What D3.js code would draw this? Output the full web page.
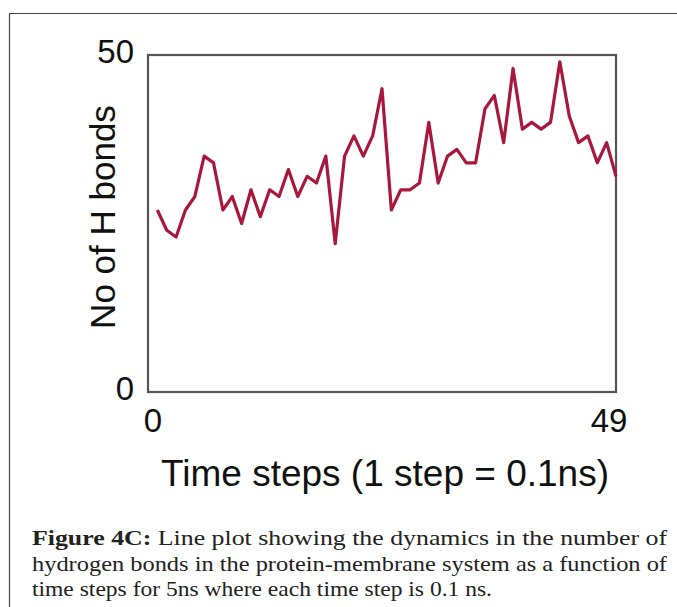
<!DOCTYPE html>
<html lang="en">
<head>
<meta charset="UTF-8">
<title>H bonds</title>
<script src="https://d3js.org/d3.v7.min.js"></script>
<style>
body { margin: 0; background: white; }
svg { display: block; }
.tick-label { font-family: "Liberation Sans", Arial, sans-serif; font-size: 33px; fill: #111; }
.axis-title { font-family: "Liberation Sans", Arial, sans-serif; fill: #111; }
.caption { font-family: "Liberation Serif", "DejaVu Serif", serif; font-size: 22px; fill: #222; }
</style>
</head>
<body>
<div id="chart"></div>
<script>
// number of H bonds at each time step
var hbonds = [27, 24, 23, 27, 29, 35, 34, 27, 29, 25,
              30, 26, 30, 29, 33, 29, 32, 31, 35, 22,
              35, 38, 35, 38, 45, 27, 30, 30, 31, 40,
              31, 35, 36, 34, 34, 42, 44, 37, 48, 39,
              40, 39, 40, 49, 41, 37, 38, 34, 37, 32];
var yTicks = [0, 50];
var xTicks = [0, 50];
var xTickLabels = ["0", "49"];
var captionLines = [
  "Line plot showing the dynamics in the number of",
  "hydrogen bonds in the protein-membrane system as a function of",
  "time steps for 5ns where each time step is 0.1 ns."
];

var W = 677, H = 607;
var plot = {left: 148, right: 616, top: 55, bottom: 392};

var svg = d3.select("#chart").append("svg")
  .attr("width", W).attr("height", H);

// outer frame of the figure
svg.append("path")
  .attr("d", "M9.5," + H + "V13.5H" + W)
  .attr("fill", "none").attr("stroke", "#444").attr("stroke-width", 1.2);

var x = d3.scaleLinear().domain([0, hbonds.length]).range([plot.left, plot.right]);
var y = d3.scaleLinear().domain([0, 50]).range([plot.bottom, plot.top]);

// plot box
svg.append("rect")
  .attr("x", x(0)).attr("y", y(50))
  .attr("width", x(hbonds.length) - x(0)).attr("height", y(0) - y(50))
  .attr("fill", "none").attr("stroke", "#555").attr("stroke-width", 2.2);

// y tick labels
svg.selectAll(".ytl").data(yTicks).enter().append("text")
  .attr("class", "tick-label")
  .attr("x", plot.left - 14)
  .attr("y", function(d) { return y(d) + 8; })
  .attr("text-anchor", "end")
  .text(function(d) { return d; });

// x tick labels
svg.selectAll(".xtl").data(xTicks).enter().append("text")
  .attr("class", "tick-label")
  .attr("x", function(d, i) { return x(d) + (i == 0 ? 5 : -7); })
  .attr("y", plot.bottom + 40)
  .attr("text-anchor", "middle")
  .text(function(d, i) { return xTickLabels[i]; });

// axis titles
svg.append("text").attr("class", "axis-title")
  .attr("x", 385).attr("y", 486)
  .attr("text-anchor", "middle")
  .style("font-size", "37px")
  .text("Time steps (1 step = 0.1ns)");

svg.append("text").attr("class", "axis-title")
  .attr("transform", "translate(115,217) rotate(-90)")
  .attr("text-anchor", "middle")
  .style("font-size", "35px")
  .text("No of H bonds");

// the line
var line = d3.line()
  .x(function(d, i) { return x(i + 1); })
  .y(function(d) { return y(d); });

svg.append("path")
  .datum(hbonds)
  .attr("d", line)
  .attr("fill", "none")
  .attr("stroke", "#a8183c")
  .attr("stroke-width", 3.2)
  .attr("stroke-linejoin", "round");

// caption
var cap = svg.append("g").attr("class", "caption");
var t1 = cap.append("text").attr("x", 32).attr("y", 545)
  .attr("textLength", 635).attr("lengthAdjust", "spacingAndGlyphs");
t1.append("tspan").attr("font-weight", "bold").text("Figure 4C: ");
t1.append("tspan").text(captionLines[0]);
cap.append("text").attr("x", 32).attr("y", 571)
  .attr("textLength", 635).attr("lengthAdjust", "spacingAndGlyphs")
  .text(captionLines[1]);
cap.append("text").attr("x", 32).attr("y", 596)
  .attr("textLength", 460).attr("lengthAdjust", "spacingAndGlyphs")
  .text(captionLines[2]);
</script>
</body>
</html>
